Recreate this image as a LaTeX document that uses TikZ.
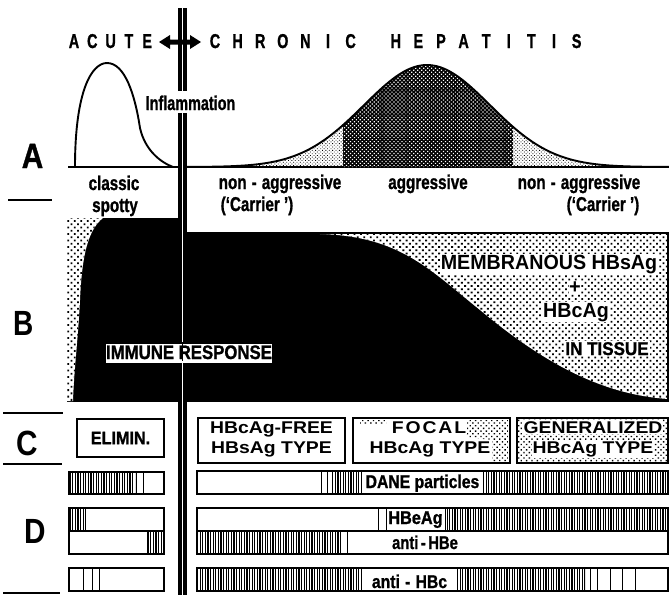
\documentclass[tikz,border=0pt]{standalone}
\usepackage{fontspec}
\usepackage{graphicx}
\setmainfont{Liberation Sans}
\usetikzlibrary{patterns.meta}
\newcommand\fs[1]{\fontsize{#1pt}{#1pt}\selectfont}
\newcommand\cb[2]{\scalebox{#1}[1]{\bfseries\addfontfeature{FakeBold=1.2}#2}}
\newcommand\rg[2]{\scalebox{#1}[1]{#2}}
\begin{document}
\begin{tikzpicture}[x=1pt,y=-1pt,
  every node/.style={inner sep=0pt},
  hatch/.style={pattern={Lines[angle=90,distance=2.6pt,line width=1.2pt]}},
  stip/.style={pattern={Dots[angle=45,distance=4.6pt,radius=1.3pt]}},
  stipc/.style={pattern={Dots[angle=45,distance=3.8pt,radius=1pt]}},
  fine/.style={pattern={Dots[angle=45,distance=2.4pt,radius=0.6pt]}},
  darkdots/.style={pattern={Dots[angle=45,distance=2.8pt,radius=0.85pt]},pattern color=white},
  bar/.style={draw,line width=1.3pt},
  cbox/.style={draw,line width=2pt},
  sep/.style={line width=2.6pt},
  thinl/.style={line width=0.8pt},
  curve/.style={line width=1.9pt},
  big/.style={anchor=base,font=\fs{35}},
  ttl/.style={anchor=base,font=\fs{20}},
  cond/.style={anchor=base,font=\fs{20}},
  wide/.style={anchor=base,font=\fs{17}\bfseries},
  wbg/.style={anchor=base,font=\fs{17}\bfseries,fill=white,inner sep=1pt},
  dlab/.style={anchor=base,font=\fs{18.5}}]
\useasboundingbox (0,0) rectangle (669,595);
\fill[white] (0,0) rectangle (669,595);

% ---------- title ----------
\foreach \l/\i in {A/0,C/1,U/2,T/3,E/4}
  \node[ttl] (ta\i) at ({74+18.3*\i},48) {\cb{0.72}{\l}};
\foreach \l/\i in {C/0,H/1,R/2,O/3,N/4,I/5,C/6,H/8,E/9,P/10,A/11,T/12,I/13,T/14,I/15,S/16}
  \node[ttl] (tc\i) at ({215+22.6*\i},48) {\cb{0.72}{\l}};

% ---------- section A ----------
\draw[curve] (68,167) -- (669,167);
\draw[curve] (75,167) .. controls (75,90) and (92,63) .. (107,63)
  .. controls (125,63) and (135,95) .. (140,128)
  .. controls (145,150) and (160,162) .. (173,167);
\fill[fine] (250,167) -- plot[domain=250:343,samples=40] (\x,{167-102*exp(-0.5*((\x-427)/63)^2)}) -- (343,167) -- cycle;
\fill[fine] (513,167) -- plot[domain=513:604,samples=40] (\x,{167-102*exp(-0.5*((\x-427)/63)^2)}) -- (604,167) -- cycle;
\fill[black] (343,167) -- plot[domain=343:513,samples=60] (\x,{167-102*exp(-0.5*((\x-427)/63)^2)}) -- (513,167) -- cycle;
\fill[darkdots] (343,167) -- plot[domain=343:513,samples=60] (\x,{167-102*exp(-0.5*((\x-427)/63)^2)}) -- (513,167) -- cycle;
\draw[curve] plot[domain=186:669,samples=160] (\x,{167-102*exp(-0.5*((\x-427)/63)^2)});

\node[big] (la) at (32.5,168) {\cb{0.85}{A}};
\node[cond] (infl) at (190.5,110) {\cb{0.72}{Inflammation}};
\node[cond] (cl1) at (114,190) {\cb{0.76}{classic}};
\node[cond] (cl2) at (115,212) {\cb{0.76}{spotty}};
\node[cond] (na1) at (280,189) {\cb{0.76}{non\,\,-\,\,aggressive}};
\node[cond] (na2) at (257,211) {\cb{0.76}{(‘Carrier ’)}};
\node[cond] (ag) at (428,189) {\cb{0.76}{aggressive}};
\node[cond] (nb1) at (579,189) {\cb{0.76}{non\,\,-\,\,aggressive}};
\node[cond] (nb2) at (603,211) {\cb{0.76}{(‘Carrier ’)}};

% ---------- section B ----------
\fill[black] (67,218) rectangle (178,402);
\fill[white] (67,218) -- (103,218) .. controls (88,230) and (82,255) .. (80,300)
  .. controls (78,340) and (74,370) .. (73,401) -- (67,401) -- cycle;
\fill[stip] (67,218) -- (103,218) .. controls (88,230) and (82,255) .. (80,300)
  .. controls (78,340) and (74,370) .. (73,401) -- (67,401) -- cycle;
\fill[black] (186,233) rectangle (669,402);
\fill[white] (300,233) -- (669,233) -- (669,399) .. controls (600,395) and (540,360) .. (480,310)
  .. controls (430,270) and (400,236) .. (320,234) -- cycle;
\fill[stip] (300,233) -- (669,233) -- (669,399) .. controls (600,395) and (540,360) .. (480,310)
  .. controls (430,270) and (400,236) .. (320,234) -- cycle;
\draw[line width=1.6pt] (186,233) -- (668,233) -- (668,402);
\node[big] (lb) at (24,335) {\rg{0.8}{\bfseries B}};
\node[anchor=base,font=\fs{20.5}\bfseries,fill=white,inner sep=0.8pt] (mem) at (549,269) {\rg{0.96}{MEMBRANOUS HBsAg}};
\node[anchor=base,font=\fs{20}\bfseries,fill=white,inner sep=0.5pt] (plus) at (575,293) {+};
\node[anchor=base,font=\fs{20.5}\bfseries,fill=white,inner sep=0.8pt] (hbc) at (576,317) {\rg{0.96}{HBcAg}};
\node[anchor=base,font=\fs{18.5},fill=white,inner sep=1pt] (tis) at (607,355) {\cb{0.92}{IN TISSUE}};

% ---------- section C ----------
\node[big] (lc) at (27,455) {\rg{0.85}{\bfseries C}};
\node[cbox,minimum width=87pt,minimum height=38pt,font=\fs{18}] (elim) at (120.5,438) {\cb{0.9}{ELIMIN.}};
\draw[cbox] (198,418) rectangle (345,463);
\node[wide] (c1a) at (271.5,433) {\rg{1.14}{HBcAg-FREE}};
\node[wide] (c1b) at (271.5,453) {\rg{1.14}{HBsAg TYPE}};
\fill[stipc] (466,420) -- (508,420) -- (508,461) -- (492,461) -- (492,440) -- (466,437) -- cycle;
\fill[stipc] (360,420) rectangle (386,424);
\draw[cbox] (353,418) rectangle (510,463);
\node[wbg] (c2a) at (429,433) {\addfontfeature{LetterSpace=10}\rg{1.14}{FOCAL}};
\node[wbg] (c2b) at (430,453) {\rg{1.14}{HBcAg TYPE}};
\fill[stipc] (517,418) rectangle (668,463);
\draw[cbox] (517,418) rectangle (668,463);
\node[wbg] (c3a) at (593,433) {\rg{1.14}{GENERALIZED}};
\node[wbg] (c3b) at (593,453) {\rg{1.14}{HBcAg TYPE}};

% ---------- section D ----------
\node[big] (ld) at (35,543) {\rg{0.85}{\bfseries D}};
% left bars
\fill[hatch] (69,472) rectangle (135,494);
\draw[thinl] (136,472) -- (136,494) (143,472) -- (143,494);
\draw[bar] (69,472) rectangle (164,494);
\fill[hatch] (69,508) rectangle (85,531);
\draw[thinl] (85,508) -- (85,531);
\fill[hatch] (147,531) rectangle (164,554);
\draw[thinl] (147,531) -- (147,554);
\draw[bar] (69,508) rectangle (164,554);
\draw[bar] (69,531) -- (164,531);
\draw[thinl] (83,568) -- (83,591) (92,568) -- (92,591) (99,568) -- (99,591);
\draw[bar] (69,568) rectangle (164,591);
% right bars
\fill[hatch] (332,471) rectangle (668,494);
\draw[thinl] (321,471) -- (321,494) (327,471) -- (327,494);
\fill[white] (362,472) rectangle (483,493);
\draw[bar] (197,471) rectangle (668,494);
\node[dlab] (dane) at (422.5,488) {\cb{0.85}{DANE particles}};
\fill[hatch] (445,508) rectangle (668,531);
\draw[thinl] (378,508) -- (378,531) (386,508) -- (386,531) (445,508) -- (445,531);
\fill[hatch] (197,531) rectangle (340,554);
\draw[thinl] (340,531) -- (340,554) (347,531) -- (347,554);
\draw[bar] (197,508) rectangle (668,554);
\draw[bar] (197,531) -- (668,531);
\node[dlab] (hbe) at (415.5,524) {\cb{0.88}{HBeAg}};
\node[dlab] (ahbe) at (425,549) {\cb{0.8}{anti\,-\,HBe}};
\fill[hatch] (197,568) rectangle (362,591);
\fill[hatch] (457,568) rectangle (585,591);
\draw[thinl] (590,568) -- (590,591) (597,568) -- (597,591) (610,568) -- (610,591)
  (622,568) -- (622,591) (635,568) -- (635,591);
\draw[bar] (197,568) rectangle (668,591);
\node[dlab] (ahbc) at (409.5,588) {\cb{0.85}{anti\,\,-\,\,HBc}};

% ---------- separators ----------
\draw[sep] (8,200) -- (52,200);
\draw[sep] (3,413) -- (63,413);
\draw[sep] (3,464) -- (62,464);
\draw[sep] (3,593) -- (60,593);

% ---------- vertical double line ----------
\fill[black] (178,8) rectangle (186.5,91);
\fill[white] (181.5,8) rectangle (183,91);
\fill[black] (178,113) rectangle (186.5,595);
\fill[white] (181.5,113) rectangle (183,595);
% title arrow
\fill[black] (159,42) -- (170,35) -- (170,39.5) -- (190,39.5) -- (190,35) -- (201,42)
  -- (190,49) -- (190,44.5) -- (170,44.5) -- (170,49) -- cycle;

% immune response label
\node[anchor=base,font=\fs{19.5},fill=white,inner sep=0pt,minimum height=19pt,text depth=3pt] (imm) at (189,359) {\cb{0.86}{IMMUNE RESPONSE}};
\draw[thinl] (182.2,342) -- (182.2,361);
\end{tikzpicture}
\end{document}
